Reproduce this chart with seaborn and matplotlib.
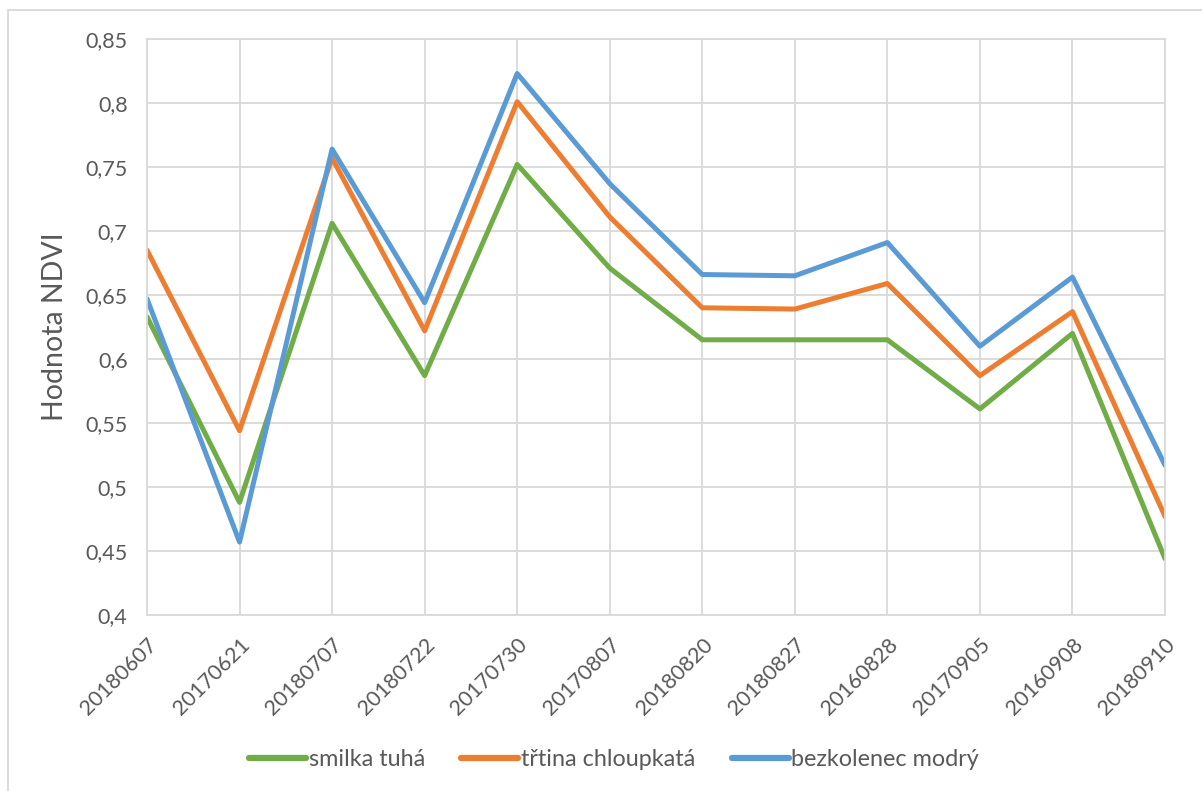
import matplotlib
matplotlib.use("Agg")
import matplotlib.pyplot as plt
from matplotlib.patches import Rectangle
from matplotlib.lines import Line2D
from matplotlib.ticker import FuncFormatter, MultipleLocator
import seaborn as sns
import pandas as pd

dates = ["20180607", "20170621", "20180707", "20180722", "20170730", "20170807",
         "20180820", "20180827", "20160828", "20170905", "20160908", "20180910"]
smilka = [0.633, 0.488, 0.706, 0.587, 0.752, 0.671, 0.615, 0.615, 0.615, 0.561, 0.620, 0.444]
trtina = [0.685, 0.544, 0.757, 0.622, 0.801, 0.711, 0.640, 0.639, 0.659, 0.587, 0.637, 0.477]
bezkolenec = [0.647, 0.457, 0.764, 0.644, 0.823, 0.737, 0.666, 0.665, 0.691, 0.610, 0.664, 0.517]
series_names = ["smilka tuhá", "třtina chloupkatá", "bezkolenec modrý"]
colors = ["#70AD47", "#ED7D31", "#5B9BD5"]

sns.set_theme(style="white")
plt.rcParams["font.family"] = ["Lato", "DejaVu Sans"]
text_color = "#595959"
grid_color = "#D9D9D9"

rows = []
for name, vals in zip(series_names, [smilka, trtina, bezkolenec]):
    for i, (d, v) in enumerate(zip(dates, vals)):
        rows.append({"pos": i, "datum": d, "druh": name, "NDVI": v})
df = pd.DataFrame(rows)

fig = plt.figure(figsize=(12.02, 7.91), dpi=100)
ax = fig.add_axes([147 / 1202, 1 - 615 / 791, (1165 - 147) / 1202, (615 - 39) / 791])

sns.lineplot(data=df, x="pos", y="NDVI", hue="druh", hue_order=series_names,
             palette=colors, linewidth=3.6, sort=False, legend=False, ax=ax,
             solid_capstyle="round", solid_joinstyle="round")

ax.set_xlim(0, len(dates) - 1)
ax.set_ylim(0.4, 0.85)
ax.yaxis.set_major_locator(MultipleLocator(0.05))
ax.yaxis.set_major_formatter(FuncFormatter(lambda v, p: f"{v:.2f}".rstrip("0").replace(".", ",")))
ax.set_xticks(range(len(dates)))
ax.set_xticklabels(dates, rotation=45, ha="right", rotation_mode="anchor")

ax.grid(True, color=grid_color, linewidth=1.3)
ax.set_axisbelow(True)
for s in ax.spines.values():
    s.set_color(grid_color)
    s.set_linewidth(1.3)
ax.tick_params(axis="both", length=0, labelsize=15.5, labelcolor=text_color)
ax.tick_params(axis="y", pad=14)
ax.tick_params(axis="x", pad=14)
ax.set_xlabel("")
ax.set_ylabel("Hodnota NDVI", fontsize=20.5, color=text_color)
ax.yaxis.set_label_coords(-0.0776, 0.5)

handles = [Line2D([0], [0], color=c, linewidth=4.5, solid_capstyle="round") for c in colors]
leg = fig.legend(handles, series_names, loc="center", bbox_to_anchor=(614 / 1202, 1 - 760 / 791),
                 ncol=3, frameon=False, fontsize=16.8, handlelength=2.45,
                 handletextpad=0.12, columnspacing=1.55)
for t in leg.get_texts():
    t.set_color(text_color)

fig.patches.append(Rectangle((7.5 / 1202, -0.2), 2, 1 - 10 / 791 + 0.2,
                             transform=fig.transFigure, fill=False,
                             edgecolor=grid_color, linewidth=1.3))

fig.savefig("out.png", dpi=100)
